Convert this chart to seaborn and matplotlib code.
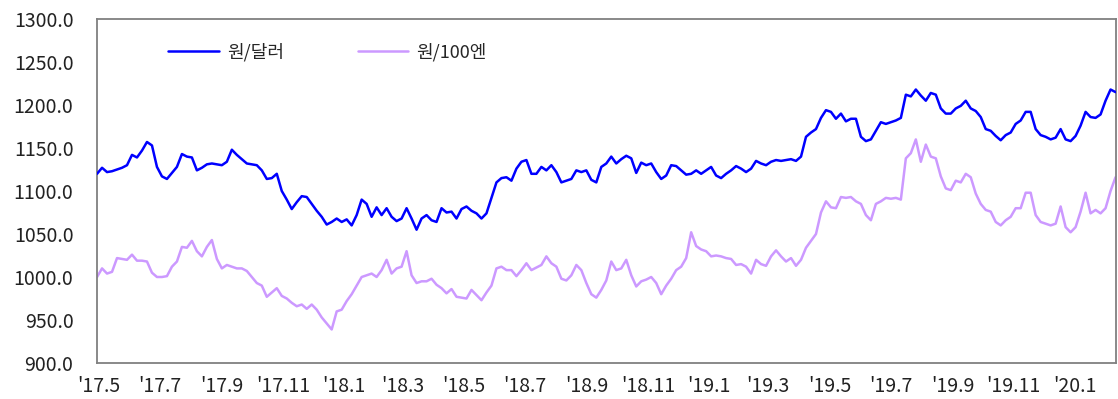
import matplotlib
matplotlib.use("Agg")
import matplotlib.pyplot as plt
import numpy as np
import pandas as pd
import seaborn as sns

# KRW per USD and KRW per 100 JPY, sampled roughly every 5 calendar days
start_date = "2017-04-29"
end_date = "2020-02-11"

krw_usd = [
    1120, 1127, 1122, 1123, 1125, 1127, 1130, 1142, 1139, 1147,
    1157, 1153, 1128, 1117, 1114, 1121, 1128, 1143, 1140, 1139,
    1124, 1127, 1131, 1132, 1131, 1130, 1134, 1148, 1142, 1137,
    1132, 1131, 1130, 1124, 1114, 1115, 1120, 1100, 1090, 1079,
    1087, 1094, 1093, 1085, 1077, 1070, 1061, 1064, 1068, 1064,
    1067, 1060, 1072, 1090, 1085, 1070, 1081, 1072, 1080, 1070,
    1065, 1068, 1080, 1068, 1055, 1068, 1072, 1066, 1064, 1080,
    1075, 1076, 1068, 1079, 1082, 1077, 1074, 1068, 1074, 1092,
    1110, 1115, 1116, 1112, 1126, 1134, 1136, 1120, 1120, 1128,
    1124, 1130, 1122, 1110, 1112, 1114, 1124, 1122, 1124, 1113,
    1110, 1128, 1132, 1140, 1132, 1137, 1141, 1138, 1121, 1133,
    1130, 1132, 1122, 1114, 1118, 1130, 1129, 1124, 1119, 1120,
    1124, 1120, 1124, 1128, 1118, 1115, 1120, 1124, 1129, 1126,
    1122, 1126, 1135, 1132, 1130, 1134, 1136, 1135, 1136, 1137,
    1135, 1140, 1163, 1168, 1172, 1185, 1194, 1192, 1184, 1190,
    1181, 1184, 1184, 1163, 1158, 1160, 1170, 1180, 1178, 1180,
    1182, 1185, 1212, 1210, 1218, 1211, 1205, 1214, 1212, 1196,
    1190, 1190, 1196, 1199, 1205, 1196, 1193, 1186, 1172, 1170,
    1164, 1159, 1165, 1168, 1178, 1182, 1192, 1192, 1172, 1165,
    1163, 1160, 1162, 1172, 1160, 1158, 1164, 1176, 1192, 1186,
    1185, 1189, 1205, 1218, 1215,
]

krw_jpy100 = [
    1000, 1010, 1004, 1006, 1022, 1021, 1020, 1026, 1019, 1019,
    1018, 1005, 1000, 1000, 1001, 1012, 1018, 1035, 1034, 1042,
    1030, 1024, 1035, 1043, 1021, 1010, 1014, 1012, 1010, 1010,
    1007, 1000, 993, 990, 977, 982, 987, 978, 975, 970,
    966, 968, 963, 968, 962, 953, 946, 939, 960, 962,
    972, 980, 990, 1000, 1002, 1004, 1000, 1008, 1020, 1004,
    1010, 1012, 1030, 1002, 993, 995, 995, 998, 991, 987,
    981, 986, 977, 976, 975, 985, 979, 973, 982, 990,
    1010, 1012, 1008, 1008, 1001, 1008, 1016, 1008, 1011, 1014,
    1024, 1016, 1012, 998, 996, 1002, 1014, 1008, 993, 980,
    976, 985, 996, 1018, 1008, 1010, 1020, 1002, 989, 995,
    997, 1000, 993, 980, 990, 998, 1008, 1012, 1022, 1052,
    1036, 1032, 1030, 1024, 1025, 1024, 1022, 1021, 1014, 1015,
    1012, 1004, 1020, 1015, 1013, 1024, 1031, 1024, 1018, 1022,
    1013, 1020, 1034, 1042, 1050, 1075, 1088, 1081, 1080, 1093,
    1092, 1093, 1088, 1085, 1072, 1066, 1085, 1088, 1092, 1091,
    1092, 1090, 1138, 1144, 1160, 1134, 1154, 1140, 1138, 1117,
    1103, 1101, 1112, 1110, 1120, 1116, 1097, 1085, 1078, 1076,
    1064, 1060, 1066, 1070, 1080, 1080, 1098, 1098, 1072, 1064,
    1062, 1060, 1062, 1082, 1058, 1052, 1058, 1076, 1098, 1074,
    1078, 1074, 1080, 1100, 1116,
]

series_names = ["원/달러", "원/100엔"]
series_colors = ["#0000FF", "#CC99FF"]

tick_dates = pd.date_range("2017-05-01", "2020-01-01", freq="2MS")
tick_labels = [f"'{d.year % 100:02d}.{d.month}" for d in tick_dates]
y_ticks = np.arange(900, 1301, 50)

dates = pd.date_range(start_date, end_date, periods=len(krw_usd))
df = pd.DataFrame({"date": dates, series_names[0]: krw_usd, series_names[1]: krw_jpy100})

sns.set_style("white")
plt.rcParams["font.family"] = ["Noto Sans CJK KR", "DejaVu Sans"]

fig = plt.figure(figsize=(11.18, 3.99), dpi=100)
ax = fig.add_axes([0.0868, 0.0902, 0.9110, 0.8622])

sns.lineplot(data=df, x="date", y=series_names[1], ax=ax, color=series_colors[1],
             linewidth=1.8, label=series_names[1], zorder=2)
sns.lineplot(data=df, x="date", y=series_names[0], ax=ax, color=series_colors[0],
             linewidth=1.8, label=series_names[0], zorder=3)

ax.set_xlim(dates[0], dates[-1])
ax.set_ylim(900, 1300)
ax.set_yticks(y_ticks)
ax.set_yticklabels([f"{v:.1f}" for v in y_ticks])
ax.set_xticks(tick_dates)
ax.set_xticklabels(tick_labels)
ax.set_xlabel("")
ax.set_ylabel("")

for side in ["left", "right", "top", "bottom"]:
    ax.spines[side].set_visible(True)
    ax.spines[side].set_color("#808080")
    ax.spines[side].set_linewidth(1.3)

ax.tick_params(axis="y", direction="in", length=3, width=1.2, color="#808080",
               pad=17, labelsize=14, labelcolor="#222222")
ax.tick_params(axis="x", length=0, pad=9, labelsize=14, labelcolor="#222222")

handles, labels = ax.get_legend_handles_labels()
order = [labels.index(n) for n in series_names]
ax.legend([handles[i] for i in order], [labels[i] for i in order],
          loc="upper left", bbox_to_anchor=(0.0697, 0.93), ncol=2, frameon=False,
          fontsize=13, handlelength=2.8, handletextpad=0.45, columnspacing=4.1,
          borderpad=0, borderaxespad=0)

fig.savefig("out.png", dpi=100, facecolor="white")
